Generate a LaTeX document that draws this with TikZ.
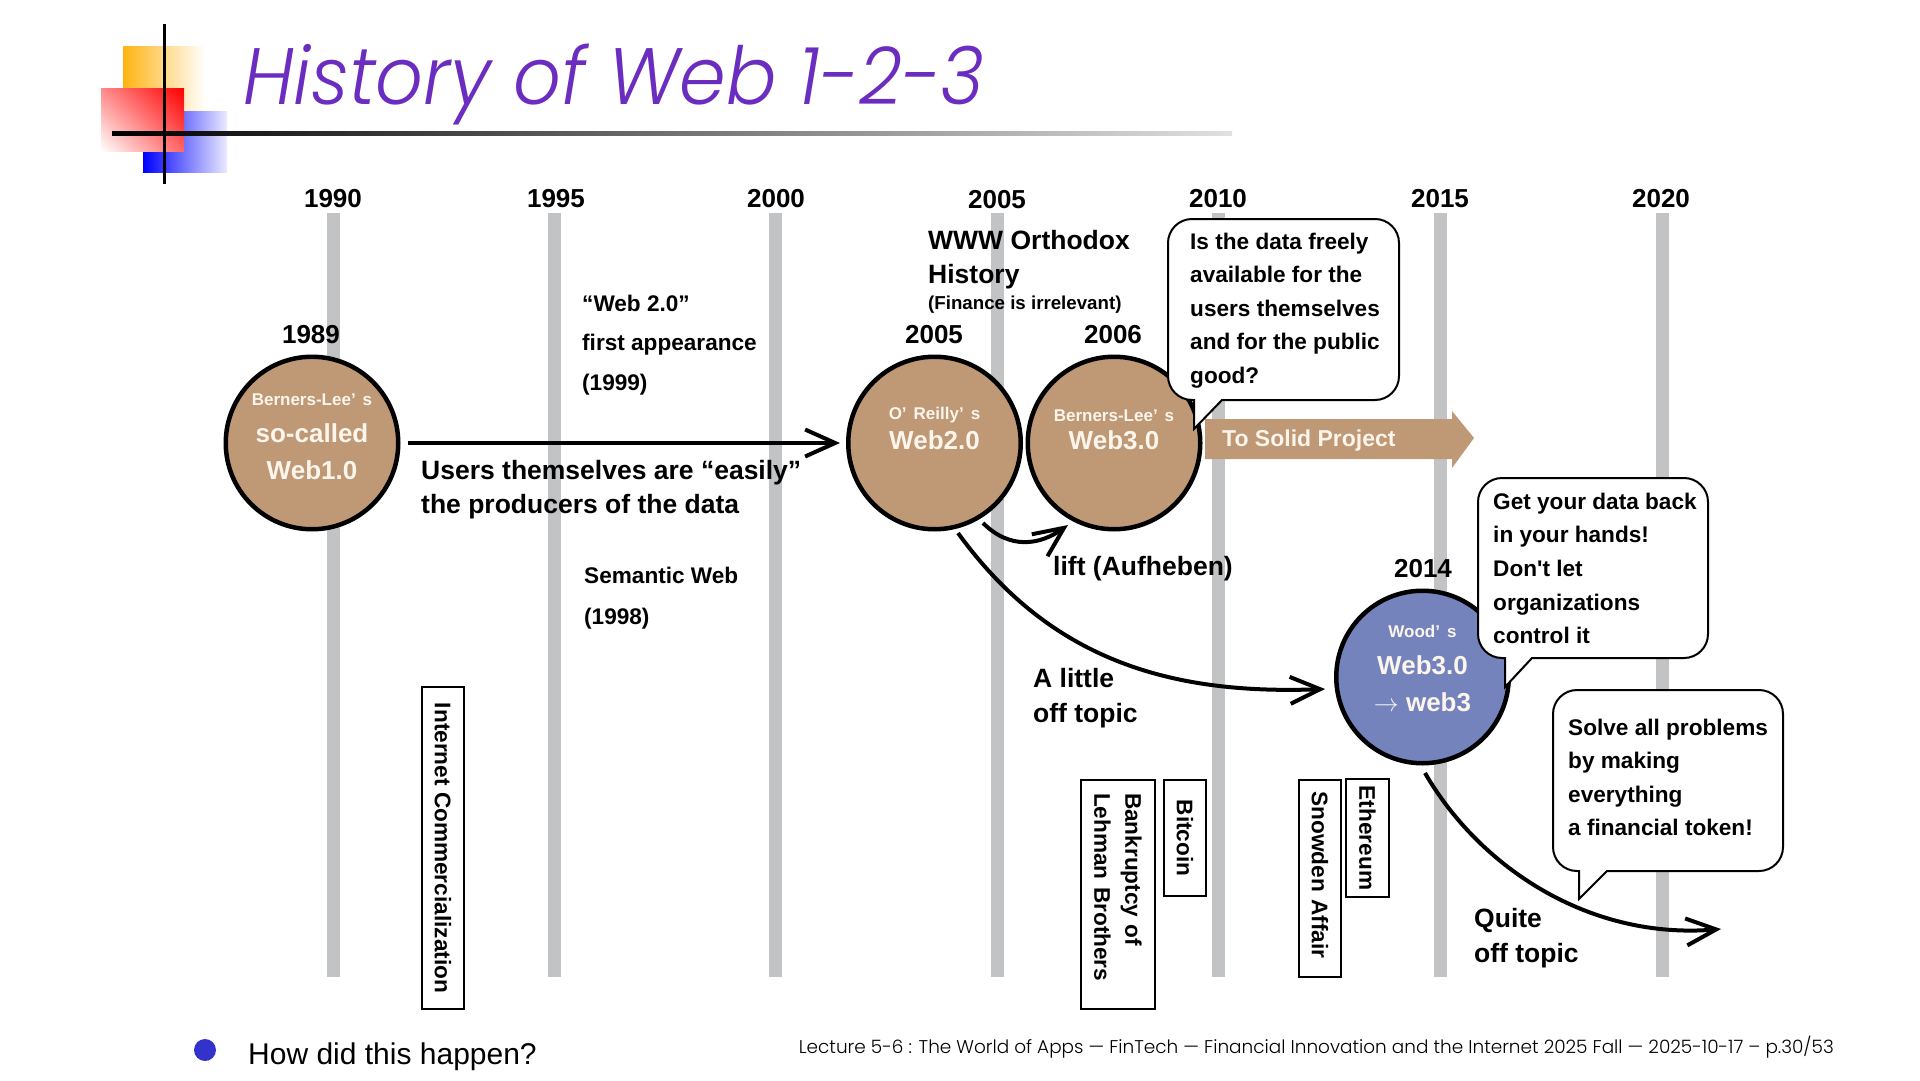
\documentclass[tikz,border=0pt]{standalone}
\usepackage{fontspec}
\setmainfont{Liberation Sans}
\newfontfamily\gothicfont{Poppins}[UprightFont=* Light, ItalicFont=* Light Italic]
\usetikzlibrary{arrows.meta, shadings}

\definecolor{webbrown}{HTML}{BF9875}
\definecolor{webblue}{HTML}{7483BC}
\definecolor{yeargray}{HTML}{C1C3C5}
\definecolor{titlepurple}{HTML}{6B2CC0}
\definecolor{bulletblue}{HTML}{3333CC}
\definecolor{paletext}{HTML}{FBF5EC}
\definecolor{logoorange}{HTML}{FFB310}
\newcommand{\ownerfont}{\fontsize{17}{20}\bfseries\selectfont}
\newcommand{\wideapos}{’\hspace{7pt}}

\tikzset{
  yearbar/.style={draw=yeargray, line width=13pt},
  yearlabel/.style={font=\fontsize{26}{31}\bfseries\selectfont, inner sep=0pt},
  plainbold/.style={font=\fontsize{22.6}{33.6}\bfseries\selectfont, align=left, anchor=west, inner sep=0pt},
  largebold/.style={font=\fontsize{26.5}{34.5}\bfseries\selectfont, align=left, anchor=west, inner sep=0pt},
  webcircle/.style={circle, draw=black, line width=4.5pt, minimum size=172.5pt, inner sep=0pt},
  circletext/.style={text=paletext, align=center, inner sep=0pt, font=\fontsize{26}{37}\bfseries\selectfont},
  bubble/.style={draw=black, fill=white, line width=2pt},
  eventbox/.style={draw=black, line width=2pt, rotate=-90, inner sep=0pt, font=\fontsize{22.6}{31}\bfseries\selectfont},
  bigarrow/.style={-{Straight Barb[length=30pt,width=27pt]}, line width=4pt}
}

% left, top, right, bottom, tail base left, tail base right, tip x, tip y
\newcommand{\speechbubble}[8]{
  \draw[bubble] (#5,#4) [rounded corners=24pt] -- (#1,#4) -- (#1,#2) -- (#3,#2) -- (#3,#4)
    [sharp corners] -- (#6,#4) -- (#7,#8) -- cycle;
}

\begin{document}
\begin{tikzpicture}[x=1pt, y=-1pt]
  \useasboundingbox (0,0) rectangle (1920,1081);

  % logo squares
  \shade[left color=logoorange, right color=white] (123,47) rectangle (205,112);
  \shade[left color=blue, right color=blue!8] (143,111) rectangle (227,172);
  \shade[upper left=red!45, upper right=red, lower left=white, lower right=red!60] (101,89) rectangle (184,151);
  \shade[left color=black, right color=black!12] (112,131) rectangle (1232,135);
  \draw[line width=3pt] (164,24) -- (164,184);

  \node[anchor=west, inner sep=0pt, xscale=0.935, text=titlepurple, font=\fontsize{80}{90}\gothicfont\itshape] (title) at (243,84) {History of Web 1-2-3};

  % years
  \draw[yearbar] (333,213) -- (333,977);
  \draw[yearbar] (554.5,213) -- (554.5,977);
  \draw[yearbar] (775,213) -- (775,977);
  \draw[yearbar] (997,213) -- (997,977);
  \draw[yearbar] (1218,213) -- (1218,977);
  \draw[yearbar] (1440,213) -- (1440,977);
  \draw[yearbar] (1662,213) -- (1662,977);
  \node[yearlabel] (y1990) at (333,199) {1990};
  \node[yearlabel] (y1995) at (556,199) {1995};
  \node[yearlabel] (y2000) at (776,199) {2000};
  \node[yearlabel] (y2005) at (997,200) {2005};
  \node[yearlabel] (y2010) at (1218,199) {2010};
  \node[yearlabel] (y2015) at (1440,199) {2015};
  \node[yearlabel] (y2020) at (1661,199) {2020};

  % the webs
  \node[webcircle, fill=webbrown] (web1) at (312,443) {};
  \node[webcircle, fill=webbrown] (web2) at (934.5,443) {};
  \node[webcircle, fill=webbrown] (web3) at (1114,443) {};
  \node[webcircle, fill=webblue] (wood) at (1422.5,677) {};
  \node[circletext] (web1text) at (312,437) {{\ownerfont Berners-Lee\wideapos s}\\so-called\\Web1.0};
  \node[circletext] (web2text) at (934.5,428) {{\ownerfont O\wideapos Reilly\wideapos s}\\[-7pt]Web2.0};
  \node[circletext] (web3text) at (1114,430) {{\ownerfont Berners-Lee\wideapos s}\\[-9pt]Web3.0};
  \node[circletext] (woodtext) at (1422.5,668) {{\ownerfont Wood\wideapos s}\\Web3.0\\$\rightarrow$ web3};
  \node[yearlabel] (y1989) at (311,335) {1989};
  \node[yearlabel] (y2005b) at (934,335) {2005};
  \node[yearlabel] (y2006) at (1113,335) {2006};
  \node[yearlabel] (y2014) at (1423,569) {2014};

  % arrows
  \coordinate (liftstart) at (983,523);
  \coordinate (lifttip) at (1068,525);
  \coordinate (littlestart) at (958,533);
  \coordinate (littletip) at (1325,689);
  \coordinate (quitestart) at (1425,773);
  \coordinate (quitetip) at (1721,929);
  \draw[bigarrow, shorten <=7pt, shorten >=6pt] (web1.east) -- (web2.west);
  \draw[bigarrow] (liftstart) .. controls (1010,550) and (1040,545) .. (lifttip);
  \draw[bigarrow] (littlestart) .. controls (1050,660) and (1170,695) .. (littletip);
  \draw[bigarrow] (quitestart) .. controls (1480,868) and (1590,940) .. (quitetip);

  % to solid
  \fill[webbrown] (1205,419) -- (1452,419) -- (1452,411) -- (1474,438) -- (1452,468) -- (1452,459) -- (1205,459) -- cycle;
  \node[anchor=west, inner sep=0pt, text=paletext, font=\fontsize{23}{28}\bfseries\selectfont] (solid) at (1222,441) {To Solid Project};

  % speech bubbles
  \speechbubble{1168}{219}{1399}{400}{1194}{1222}{1194}{429}
  \node[plainbold] (bubbleone) at (1190,310.5) {Is the data freely\\available for the\\users themselves\\and for the public\\good?};
  \speechbubble{1478}{478}{1708}{658}{1505}{1532}{1505}{687}
  \node[plainbold] (bubbletwo) at (1493,568.5) {Get your data back\\in your hands!\\Don\textquotesingle t let\\organizations\\control it};
  \speechbubble{1553}{690}{1783}{871}{1579}{1607}{1579}{899}
  \node[plainbold] (bubblethree) at (1568,777.5) {Solve all problems\\by making\\everything\\a financial token!};

  % free text
  \node[plainbold] (webtwo) at (582,345) {“Web 2.0”\\[6pt]first appearance\\[6pt](1999)};
  \node[plainbold] (semantic) at (584,598) {Semantic Web\\[7pt](1998)};
  \node[largebold] (users) at (421,489.5) {Users themselves are “easily”\\the producers of the data};
  \node[largebold] (lift) at (1053,568.5) {lift (Aufheben)};
  \node[largebold] (little) at (1033,698) {A little\\off topic};
  \node[largebold] (quite) at (1474,938) {Quite\\off topic};
  \node[largebold, anchor=north west] (orthodox) at (928,230) {WWW Orthodox\\History};
  \node[anchor=west, inner sep=0pt, font=\fontsize{18.7}{24}\bfseries\selectfont] (finance) at (928,305) {(Finance is irrelevant)};

  % events
  \node[eventbox, minimum width=322pt, minimum height=42pt] (internet) at (443,848) {Internet Commercialization};
  \node[eventbox, minimum height=74pt, minimum width=229pt, text width=203pt, align=left] (lehman) at (1118,894.5) {Bankruptcy of\\Lehman Brothers};
  \node[eventbox, minimum width=116pt, minimum height=42pt] (bitcoin) at (1185,838) {Bitcoin};
  \node[eventbox, minimum width=197pt, minimum height=42pt, text width=174pt, align=left] (snowden) at (1320,878.5) {Snowden Affair};
  \node[eventbox, minimum width=118pt, minimum height=43pt] (ethereum) at (1367.5,838) {Ethereum};

  % footer
  \node[circle, fill=bulletblue, minimum size=22pt, inner sep=0pt] (bullet) at (205,1050) {};
  \node[anchor=west, inner sep=0pt, font=\fontsize{30}{34}\selectfont] (question) at (248,1057) {How did this happen?};
  \node[anchor=east, inner sep=0pt, font=\fontsize{18.45}{22}\gothicfont] (footer) at (1834,1047) {Lecture 5-6 : The World of Apps — FinTech — Financial Innovation and the Internet 2025 Fall — 2025-10-17 – p.30/53};
\end{tikzpicture}
\end{document}
